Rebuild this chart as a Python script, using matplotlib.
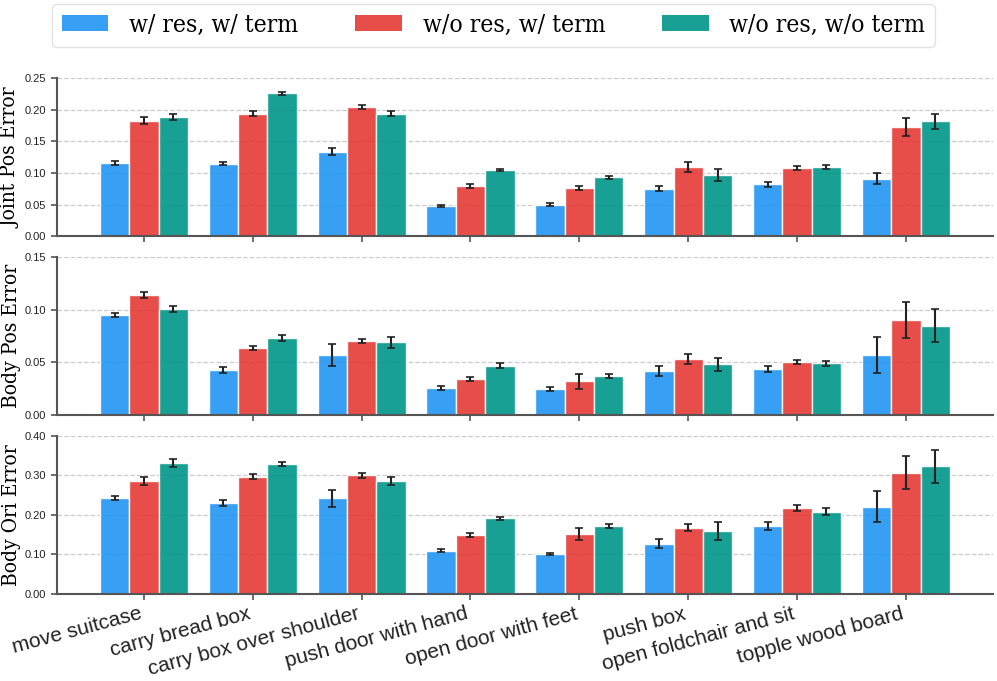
import numpy as np
import matplotlib
matplotlib.use('Agg')
import matplotlib.pyplot as plt
from matplotlib import font_manager

tasks = ['move suitcase', 'carry bread box', 'carry box over shoulder', 'push door with hand',
         'open door with feet', 'push box', 'open foldchair and sit', 'topple wood board']
methods = ['w/ res, w/ term', 'w/o res, w/ term', 'w/o res, w/o term']
colors = ['#2196F3', '#E53935', '#009688']

# joint position error: mean and std per method
joint_mean = [
    [0.116, 0.115, 0.134, 0.048, 0.050, 0.075, 0.082, 0.091],
    [0.183, 0.194, 0.205, 0.080, 0.076, 0.110, 0.108, 0.173],
    [0.189, 0.226, 0.194, 0.105, 0.093, 0.097, 0.110, 0.182],
]
joint_err = [
    [0.003, 0.003, 0.005, 0.002, 0.002, 0.004, 0.004, 0.009],
    [0.005, 0.004, 0.003, 0.003, 0.003, 0.008, 0.003, 0.014],
    [0.005, 0.003, 0.004, 0.002, 0.003, 0.009, 0.003, 0.012],
]

bpos_mean = [
    [0.095, 0.043, 0.057, 0.026, 0.025, 0.042, 0.044, 0.057],
    [0.114, 0.064, 0.070, 0.034, 0.032, 0.053, 0.050, 0.090],
    [0.101, 0.073, 0.069, 0.047, 0.037, 0.048, 0.049, 0.085],
]
bpos_err = [
    [0.002, 0.003, 0.010, 0.002, 0.002, 0.005, 0.003, 0.017],
    [0.003, 0.002, 0.002, 0.002, 0.007, 0.005, 0.002, 0.017],
    [0.003, 0.003, 0.005, 0.002, 0.002, 0.006, 0.002, 0.016],
]

bori_mean = [
    [0.242, 0.230, 0.242, 0.109, 0.101, 0.127, 0.172, 0.221],
    [0.286, 0.297, 0.300, 0.149, 0.152, 0.168, 0.218, 0.307],
    [0.332, 0.330, 0.287, 0.191, 0.172, 0.160, 0.208, 0.323],
]
bori_err = [
    [0.005, 0.008, 0.022, 0.004, 0.003, 0.011, 0.009, 0.039],
    [0.010, 0.007, 0.006, 0.005, 0.015, 0.010, 0.007, 0.042],
    [0.010, 0.005, 0.010, 0.004, 0.005, 0.023, 0.009, 0.042],
]

panels = [
    ('Joint Pos Error', joint_mean, joint_err, np.arange(0, 0.251, 0.05), 0.25),
    ('Body Pos Error', bpos_mean, bpos_err, np.arange(0, 0.151, 0.05), 0.15),
    ('Body Ori Error', bori_mean, bori_err, np.arange(0, 0.401, 0.10), 0.40),
]

# condensed serif if the system has it, plain DejaVu Serif otherwise
serif = font_manager.FontProperties(family='DejaVu Serif', stretch='condensed')

fig, axes = plt.subplots(3, 1, figsize=(9.97, 6.81), dpi=100, sharex=True)
fig.subplots_adjust(left=0.057, right=0.996, top=0.885, bottom=0.128, hspace=0.133)

x = np.arange(len(tasks))
w = 0.27
for ax, (ylabel, means, errs, yticks, ymax) in zip(axes, panels):
    for i in range(3):
        ax.bar(x + (i - 1) * w, means[i], w, yerr=errs[i], color=colors[i], alpha=0.9,
               edgecolor='white', linewidth=1, label=methods[i],
               error_kw=dict(ecolor='#222222', elinewidth=1.5, capsize=3, capthick=1.2))
    ax.set_ylim(0, ymax)
    ax.set_yticks(yticks)
    ax.set_yticklabels([f'{t:.2f}' for t in yticks], fontsize=8, family='Liberation Sans')
    yl_font = serif.copy()
    yl_font.set_size(15)
    ax.set_ylabel(ylabel, fontproperties=yl_font, labelpad=3)
    ax.yaxis.grid(True, linestyle='--', color='#cccccc', linewidth=0.9)
    ax.set_axisbelow(True)
    for s in ['top', 'right']:
        ax.spines[s].set_visible(False)
    for s in ['left', 'bottom']:
        ax.spines[s].set_color('#555555')
        ax.spines[s].set_linewidth(1.5)
    ax.tick_params(axis='both', colors='#555555', labelcolor='#222222', length=4, width=1.2)
    ax.set_xlim(-0.8, 7.8)

axes[-1].set_xticks(x)
axes[-1].set_xticklabels(tasks, rotation=15, ha='right', fontsize=15, family='Liberation Sans')

handles = [plt.Rectangle((0, 0), 1, 1, color=c, alpha=0.9, linewidth=0) for c in colors]
leg_font = serif.copy()
leg_font.set_size(17.7)
fig.legend(handles, methods, loc='upper center', bbox_to_anchor=(0.495, 1.012), ncol=3,
           prop=leg_font, handlelength=1.9, handleheight=0.6,
           columnspacing=2.3, handletextpad=0.85, frameon=True, edgecolor='#dddddd',
           fancybox=True, borderpad=0.4)

fig.savefig('out.png', dpi=100)
